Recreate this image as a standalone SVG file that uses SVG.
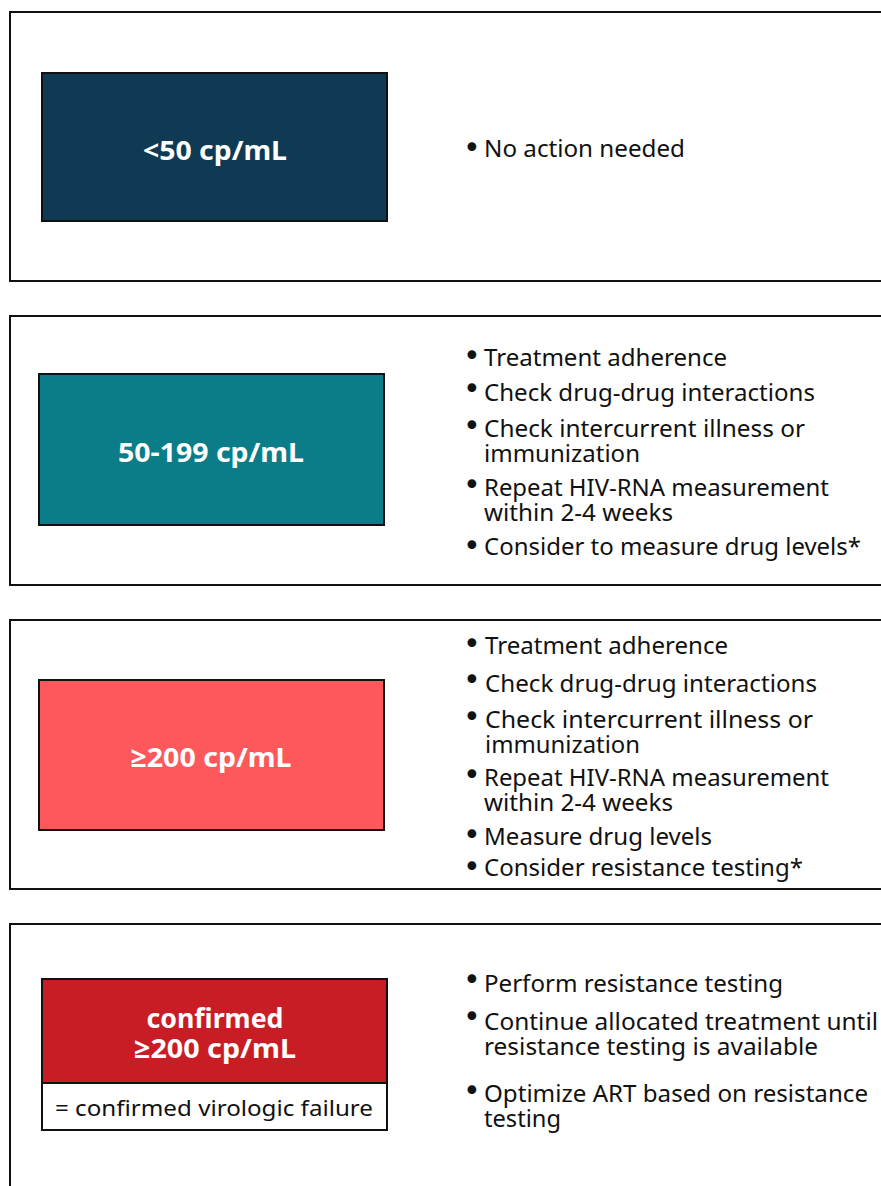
<svg xmlns="http://www.w3.org/2000/svg" width="881" height="1186" viewBox="0 0 881 1186">
<style>
.outer{fill:#fff;stroke:#111;stroke-width:2}
.inner{stroke:#111;stroke-width:2}
.lbl{font-family:"Noto Sans","Open Sans","Liberation Sans",sans-serif;font-weight:bold;font-size:27px;fill:#fff;text-anchor:middle}
.txt{font-family:"Noto Sans","Open Sans","Liberation Sans",sans-serif;font-size:24px;fill:#111}
.sub{font-family:"Noto Sans","Open Sans","Liberation Sans",sans-serif;font-size:22px;fill:#111;text-anchor:middle}
.bul{font-family:"DejaVu Sans",sans-serif;font-size:30px;fill:#111}
</style>
<rect width="881" height="1186" fill="#fff"/>
<g id="connectors"></g>

<g id="row1">
<rect class="outer" x="10" y="12" width="900" height="269"/>
<rect class="inner" x="42" y="73" width="345" height="148" fill="#0e3a53"/>
<text class="lbl" x="215" y="160" textLength="144" lengthAdjust="spacingAndGlyphs">&lt;50 cp/mL</text>
<text class="bul" x="463" y="158">•</text>
<text class="txt" x="484" y="157" textLength="201" lengthAdjust="spacingAndGlyphs">No action needed</text>
</g>

<g id="row2">
<rect class="outer" x="10" y="316" width="900" height="269"/>
<rect class="inner" x="39" y="374" width="345" height="151" fill="#0b7d88"/>
<text class="lbl" x="211" y="462" textLength="186" lengthAdjust="spacingAndGlyphs">50-199 cp/mL</text>
<text class="bul" x="463" y="366">•</text>
<text class="txt" x="484" y="366" textLength="243" lengthAdjust="spacingAndGlyphs">Treatment adherence</text>
<text class="bul" x="463" y="399">•</text>
<text class="txt" x="484" y="401" textLength="331" lengthAdjust="spacingAndGlyphs">Check drug-drug interactions</text>
<text class="bul" x="463" y="436">•</text>
<text class="txt"><tspan x="484" y="437" textLength="321" lengthAdjust="spacingAndGlyphs">Check intercurrent illness or</tspan><tspan x="484" y="462" textLength="156" lengthAdjust="spacingAndGlyphs">immunization</tspan></text>
<text class="bul" x="463" y="495">•</text>
<text class="txt"><tspan x="484" y="496" textLength="345" lengthAdjust="spacingAndGlyphs">Repeat HIV-RNA measurement</tspan><tspan x="484" y="521" textLength="189" lengthAdjust="spacingAndGlyphs">within 2-4 weeks</tspan></text>
<text class="bul" x="463" y="556">•</text>
<text class="txt" x="484" y="555" textLength="377" lengthAdjust="spacingAndGlyphs">Consider to measure drug levels*</text>
</g>

<g id="row3">
<rect class="outer" x="10" y="620" width="900" height="269"/>
<rect class="inner" x="39" y="680" width="345" height="150" fill="#fd585c"/>
<text class="lbl" x="211" y="767" textLength="161" lengthAdjust="spacingAndGlyphs">≥200 cp/mL</text>
<text class="bul" x="463" y="654">•</text>
<text class="txt" x="485" y="654" textLength="243" lengthAdjust="spacingAndGlyphs">Treatment adherence</text>
<text class="bul" x="463" y="690">•</text>
<text class="txt" x="485" y="692" textLength="332" lengthAdjust="spacingAndGlyphs">Check drug-drug interactions</text>
<text class="bul" x="463" y="727">•</text>
<text class="txt"><tspan x="485" y="728" textLength="328" lengthAdjust="spacingAndGlyphs">Check intercurrent illness  or</tspan><tspan x="485" y="753" textLength="155" lengthAdjust="spacingAndGlyphs">immunization</tspan></text>
<text class="bul" x="463" y="785">•</text>
<text class="txt"><tspan x="484" y="786" textLength="345" lengthAdjust="spacingAndGlyphs">Repeat HIV-RNA measurement</tspan><tspan x="484" y="811" textLength="189" lengthAdjust="spacingAndGlyphs">within 2-4 weeks</tspan></text>
<text class="bul" x="463" y="845">•</text>
<text class="txt" x="484" y="845" textLength="228" lengthAdjust="spacingAndGlyphs">Measure drug levels</text>
<text class="bul" x="463" y="877">•</text>
<text class="txt" x="484" y="876" textLength="319" lengthAdjust="spacingAndGlyphs">Consider resistance testing*</text>
</g>

<g id="row4">
<rect class="outer" x="10" y="924" width="900" height="300"/>
<rect class="inner" x="42" y="979" width="345" height="104" fill="#c91d25"/>
<rect class="inner" x="42" y="1083" width="345" height="47" fill="#fff"/>
<text class="lbl"><tspan x="215" y="1028" textLength="137" lengthAdjust="spacingAndGlyphs">confirmed</tspan><tspan x="215" y="1058" textLength="162" lengthAdjust="spacingAndGlyphs">≥200 cp/mL</tspan></text>
<text class="sub" x="214" y="1116" textLength="318" lengthAdjust="spacingAndGlyphs">= confirmed virologic failure</text>
<text class="bul" x="463" y="990">•</text>
<text class="txt" x="484" y="992" textLength="299" lengthAdjust="spacingAndGlyphs">Perform resistance testing</text>
<text class="bul" x="463" y="1027">•</text>
<text class="txt"><tspan x="484" y="1030" textLength="394" lengthAdjust="spacingAndGlyphs">Continue allocated treatment until</tspan><tspan x="484" y="1055" textLength="334" lengthAdjust="spacingAndGlyphs">resistance testing is available</tspan></text>
<text class="bul" x="463" y="1101">•</text>
<text class="txt"><tspan x="484" y="1102" textLength="384" lengthAdjust="spacingAndGlyphs">Optimize ART based on resistance</tspan><tspan x="484" y="1127" textLength="77" lengthAdjust="spacingAndGlyphs">testing</tspan></text>
</g>
</svg>
